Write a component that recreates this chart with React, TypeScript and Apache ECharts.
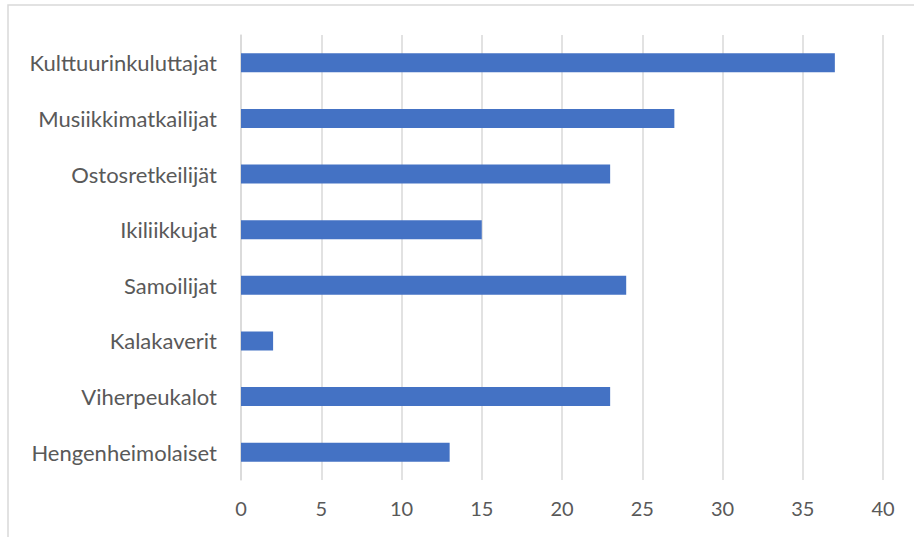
import React, { useEffect, useRef } from "react";
import * as echarts from "echarts";

const categories = [
  "Kulttuurinkuluttajat",
  "Musiikkimatkailijat",
  "Ostosretkeilijät",
  "Ikiliikkujat",
  "Samoilijat",
  "Kalakaverit",
  "Viherpeukalot",
  "Hengenheimolaiset",
];
const values = [37, 27, 23, 15, 24, 2, 23, 13];
const xMin = 0;
const xMax = 40;
const xInterval = 5;

export default function App() {
  const ref = useRef<HTMLDivElement>(null);
  useEffect(() => {
    if (!ref.current) return;
    const chart = echarts.init(ref.current, undefined, { renderer: "svg" });
    const font = "Lato, sans-serif";
    chart.setOption({
      animation: false,
      backgroundColor: "#ffffff",
      graphic: [
        {
          type: "rect",
          shape: { x: 8, y: 5, width: 1000, height: 1000 },
          style: { fill: "none", stroke: "#d9d9d9", lineWidth: 1.5 },
          silent: true,
          z: -1,
        },
      ],
      grid: { left: 241, right: 31, top: 35, bottom: 57, containLabel: false },
      xAxis: {
        type: "value",
        min: xMin,
        max: xMax,
        interval: xInterval,
        axisLine: { show: false },
        axisTick: { show: false },
        splitLine: { show: true, lineStyle: { color: "#d9d9d9", width: 1.5 } },
        axisLabel: { color: "#595959", fontSize: 20, fontFamily: font, margin: 18 },
      },
      yAxis: {
        type: "category",
        data: categories,
        inverse: true,
        axisLine: { show: true, lineStyle: { color: "#d9d9d9", width: 1.5 } },
        axisTick: { show: false },
        axisLabel: { color: "#595959", fontSize: 22, fontFamily: font, margin: 24 },
      },
      series: [
        {
          type: "bar",
          data: values,
          barWidth: 19,
          itemStyle: { color: "#4472c4" },
        },
      ],
    });
    return () => chart.dispose();
  }, []);
  return (
    <div
      ref={ref}
      style={{ position: "fixed", left: 0, top: 0, width: 914, height: 537 }}
    />
  );
}
